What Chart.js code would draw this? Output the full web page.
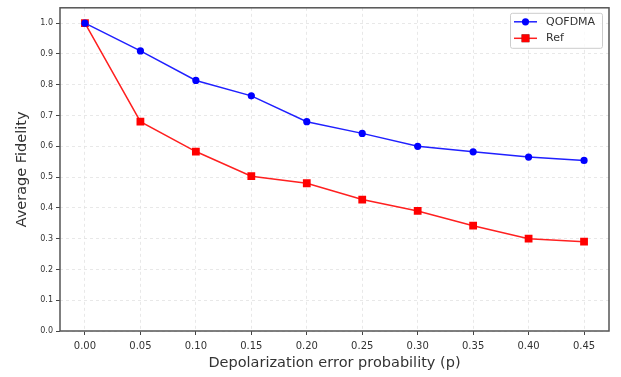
<!DOCTYPE html>
<html>
<head>
<meta charset="utf-8">
<script src="https://cdn.jsdelivr.net/npm/chart.js@4/dist/chart.umd.min.js"></script>
<style>
  html, body { margin: 0; padding: 0; background: #fff; }
  #wrap { width: 621px; height: 377px; }
</style>
</head>
<body>
<div id="wrap"><canvas id="chart" width="621" height="377"></canvas></div>
<script>
// error probability p
const pValues = [0.00, 0.05, 0.10, 0.15, 0.20, 0.25, 0.30, 0.35, 0.40, 0.45];
const qofdma = [1.0, 0.91, 0.814, 0.764, 0.68, 0.642, 0.60, 0.582, 0.565, 0.554];
const refFid = [1.0, 0.68, 0.583, 0.503, 0.48, 0.427, 0.39, 0.342, 0.30, 0.29];
const xTicks = [0.00, 0.05, 0.10, 0.15, 0.20, 0.25, 0.30, 0.35, 0.40, 0.45];
const yTicks = [0.0, 0.1, 0.2, 0.3, 0.4, 0.5, 0.6, 0.7, 0.8, 0.9, 1.0];

const FONT = '"DejaVu Sans", sans-serif';
const pts = arr => pValues.map((p, i) => ({ x: p, y: arr[i] }));

// box around the plot + legend drawn inside top-right
const frame = {
  id: 'frame',
  afterDraw(chart) {
    const { ctx, chartArea: a } = chart;
    ctx.save();
    ctx.strokeStyle = '#555';
    ctx.lineWidth = 1.5;
    ctx.strokeRect(a.left, a.top, a.right - a.left, a.bottom - a.top);

    // legend
    const bx = a.right - 99, by = a.top + 5, bw = 92, bh = 35;
    ctx.fillStyle = 'rgba(255,255,255,0.8)';
    ctx.strokeStyle = '#ccc';
    ctx.lineWidth = 1;
    ctx.beginPath();
    ctx.roundRect(bx + 0.5, by + 0.5, bw, bh, 2);
    ctx.fill(); ctx.stroke();
    chart.data.datasets.forEach((ds, i) => {
      const y = by + 9 + i * 16.5;
      ctx.strokeStyle = ds.borderColor;
      ctx.lineWidth = 1.5;
      ctx.beginPath();
      ctx.moveTo(bx + 4, y); ctx.lineTo(bx + 27, y);
      ctx.stroke();
      Chart.helpers.drawPoint(ctx, {
        pointStyle: ds.pointStyle, radius: ds.pointRadius, borderWidth: 0, rotation: 0
      }, bx + 15.5, y);
      ctx.fillStyle = ds.pointBackgroundColor;
      ctx.fill();
      ctx.fillStyle = '#333';
      ctx.font = '11px ' + FONT;
      ctx.textBaseline = 'middle';
      ctx.fillText(ds.label, bx + 36, y);
    });
    ctx.restore();
  }
};

new Chart(document.getElementById('chart'), {
  type: 'line',
  data: {
    datasets: [
      {
        label: 'QOFDMA',
        data: pts(qofdma),
        borderColor: '#2020ff',
        backgroundColor: '#0000ff',
        pointBackgroundColor: '#0000ff',
        pointBorderWidth: 0,
        pointStyle: 'circle',
        pointRadius: 3.6,
        borderWidth: 1.5,
        tension: 0
      },
      {
        label: 'Ref',
        data: pts(refFid),
        borderColor: '#ff2020',
        backgroundColor: '#ff0000',
        pointBackgroundColor: '#ff0000',
        pointBorderWidth: 0,
        pointStyle: 'rect',
        pointRadius: 5.5,
        borderWidth: 1.5,
        tension: 0
      }
    ]
  },
  options: {
    responsive: false,
    animation: false,
    layout: { padding: { top: 5, right: 12, left: 0, bottom: 0 } },
    plugins: { legend: { display: false }, tooltip: { enabled: false } },
    scales: {
      x: {
        type: 'linear',
        min: -0.0225, max: 0.4725,
        afterBuildTicks: s => { s.ticks = xTicks.map(v => ({ value: v })); },
        afterFit: s => { s.height = 46; },
        grid: { color: '#e2e2e2', lineWidth: 0.8, tickLength: 4, tickColor: '#444', tickWidth: 1 },
        border: { display: false, dash: [3, 3] },
        ticks: { color: '#333', font: { family: FONT, size: 10 }, padding: 5, maxRotation: 0,
                 callback: v => v.toFixed(2) },
        title: { display: true, text: 'Depolarization error probability (p)', color: '#333',
                 font: { family: FONT, size: 14.5 }, padding: { top: 2, bottom: 5 } }
      },
      y: {
        min: 0, max: 1.05,
        afterBuildTicks: s => { s.ticks = yTicks.map(v => ({ value: v })); },
        afterFit: s => { s.width = 60; },
        grid: { color: '#e2e2e2', lineWidth: 0.8, tickLength: 4, tickColor: '#444', tickWidth: 1 },
        border: { display: false, dash: [3, 3] },
        ticks: { color: '#333', font: { family: FONT, size: 8 }, padding: 3,
                 callback: v => v.toFixed(1) },
        title: { display: true, text: 'Average Fidelity', color: '#333',
                 font: { family: FONT, size: 14.5 }, padding: { top: 14, bottom: 0 } }
      }
    }
  },
  plugins: [frame]
});
</script>
</body>
</html>
